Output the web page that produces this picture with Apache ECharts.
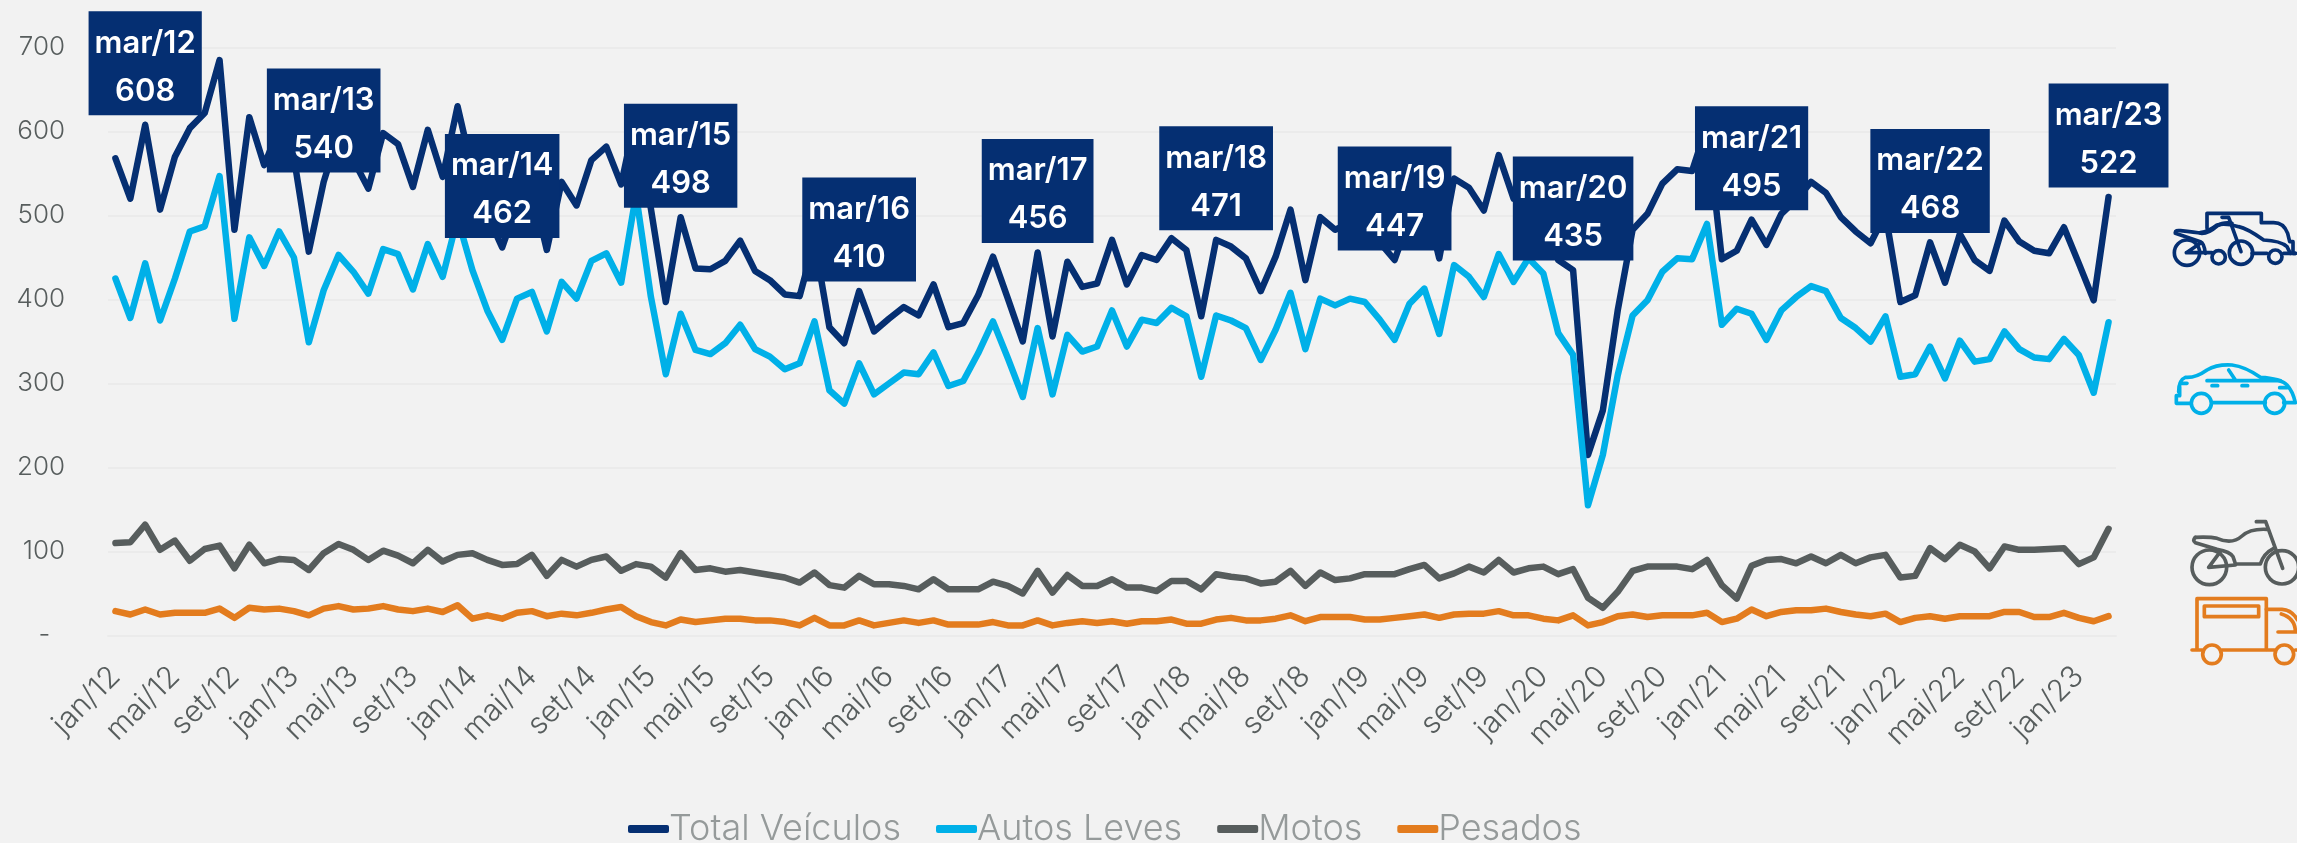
<!DOCTYPE html>
<html lang="pt-BR">
<head>
<meta charset="utf-8">
<title>Total Veículos</title>
<script src="https://cdn.jsdelivr.net/npm/echarts@6/dist/echarts.min.js"></script>
<style>
  html, body { margin: 0; padding: 0; background: #f2f2f2; }
  #chart { width: 2297px; height: 843px; }
</style>
</head>
<body>
<div id="chart"></div>
<script>
const categories = [
  'jan/12','fev/12','mar/12','abr/12','mai/12','jun/12','jul/12','ago/12','set/12','out/12','nov/12','dez/12',
  'jan/13','fev/13','mar/13','abr/13','mai/13','jun/13','jul/13','ago/13','set/13','out/13','nov/13','dez/13',
  'jan/14','fev/14','mar/14','abr/14','mai/14','jun/14','jul/14','ago/14','set/14','out/14','nov/14','dez/14',
  'jan/15','fev/15','mar/15','abr/15','mai/15','jun/15','jul/15','ago/15','set/15','out/15','nov/15','dez/15',
  'jan/16','fev/16','mar/16','abr/16','mai/16','jun/16','jul/16','ago/16','set/16','out/16','nov/16','dez/16',
  'jan/17','fev/17','mar/17','abr/17','mai/17','jun/17','jul/17','ago/17','set/17','out/17','nov/17','dez/17',
  'jan/18','fev/18','mar/18','abr/18','mai/18','jun/18','jul/18','ago/18','set/18','out/18','nov/18','dez/18',
  'jan/19','fev/19','mar/19','abr/19','mai/19','jun/19','jul/19','ago/19','set/19','out/19','nov/19','dez/19',
  'jan/20','fev/20','mar/20','abr/20','mai/20','jun/20','jul/20','ago/20','set/20','out/20','nov/20','dez/20',
  'jan/21','fev/21','mar/21','abr/21','mai/21','jun/21','jul/21','ago/21','set/21','out/21','nov/21','dez/21',
  'jan/22','fev/22','mar/22','abr/22','mai/22','jun/22','jul/22','ago/22','set/22','out/22','nov/22','dez/22',
  'jan/23','fev/23','mar/23'
]

const totalVeiculos = [
  568,520,608,507,570,604,622,685,483,617,560,604,
  569,457,540,597,566,532,598,585,534,602,546,630,
  553,501,462,513,534,459,540,512,566,582,537,620,
  508,397,498,437,436,446,470,434,423,406,404,470,
  367,348,410,362,377,391,381,418,367,372,405,451,
  401,350,456,356,445,415,419,471,418,453,447,473,
  459,380,471,463,449,410,451,507,423,498,483,491,
  489,468,447,497,522,449,544,533,506,572,520,553,
  533,447,435,215,268,387,483,502,538,555,553,607,
  448,458,495,465,502,519,540,527,498,481,467,502,
  397,405,468,420,478,447,434,494,469,458,455,486,
  443,399,522
]
const autosLeves = [
  425,378,443,375,425,481,487,547,377,474,440,481,
  450,349,411,453,433,407,460,454,412,466,427,497,
  435,387,352,401,409,362,421,401,446,455,420,525,
  403,311,383,340,335,348,370,341,332,317,324,374,
  292,276,324,287,300,313,311,337,297,303,336,374,
  330,284,366,287,358,338,344,387,344,376,372,390,
  380,308,381,375,366,328,364,408,341,401,393,401,
  397,376,352,395,413,359,441,427,403,454,421,449,
  431,360,334,155,215,310,381,399,433,449,448,490,
  370,389,383,352,387,403,416,410,378,366,350,380,
  308,311,344,306,351,326,329,362,341,331,329,353,
  334,289,373
]
const motos = [
  110,111,132,102,113,89,103,107,80,108,86,91,
  90,78,98,109,102,90,101,95,86,102,88,96,
  98,90,84,85,96,71,90,82,90,94,77,85,
  82,69,98,78,80,76,78,75,72,69,63,75,
  60,57,71,61,61,59,55,67,55,55,55,64,
  59,50,77,51,72,59,59,67,57,57,53,65,
  65,55,73,70,68,62,64,77,59,75,66,68,
  73,73,73,79,84,68,74,82,75,90,75,80,
  82,73,79,45,33,52,77,82,82,82,79,90,
  60,44,83,90,91,86,94,86,96,86,93,96,
  69,71,104,91,108,100,80,106,102,102,103,104,
  85,93,127
]
const pesados = [
  29,25,31,25,27,27,27,32,21,33,31,32,
  29,24,32,35,31,32,35,31,29,32,28,36,
  20,24,20,27,29,23,26,24,27,31,34,23,
  16,12,19,16,18,20,20,18,18,16,12,21,
  12,12,18,12,15,18,15,18,13,13,13,16,
  12,12,18,12,15,17,15,17,14,17,17,19,
  14,14,19,21,18,18,20,24,17,22,22,22,
  19,19,21,23,25,21,25,26,26,29,24,24,
  20,18,24,12,16,23,25,22,24,24,24,27,
  16,20,31,23,28,30,30,32,28,25,23,26,
  16,21,23,20,23,23,23,28,28,22,22,27,
  21,17,23
]
// meses com caixa de destaque na série total
const destaques = ['mar/12','mar/13','mar/14','mar/15','mar/16','mar/17','mar/18','mar/19','mar/20','mar/21','mar/22','mar/23']
const yTicks = [0, 100, 200, 300, 400, 500, 600, 700]

const FONT = 'Inter, sans-serif'
const NAVY = '#052f72'
const SKY = '#00b0e8'
const GREY = '#575d5d'
const ORANGE = '#e37c1e'
const GRID = '#ebebeb'

const totalData = totalVeiculos.map((v, i) => {
  if (!destaques.includes(categories[i])) return v
  return {
    value: v,
    symbol: 'circle',
    symbolSize: 1,
    label: {
      show: true,
      position: 'top',
      distance: 9,
      formatter: '{b}\n{c}',
      color: '#fff',
      fontFamily: FONT,
      fontWeight: 600,
      fontSize: 31,
      lineHeight: 48,
      backgroundColor: NAVY,
      padding: [8, 6, 0, 6],
    },
  }
})

const lineSeries = (name, data, color) => ({
  name,
  type: 'line',
  data,
  symbol: 'none',
  showSymbol: true,
  showAllSymbol: true,
  smooth: false,
  animation: false,
  itemStyle: { color },
  lineStyle: { color, width: 6.5, cap: 'round', join: 'round' },
})

// ícones decorativos à direita, desenhados em escala 3x
let shapeCount = 0
const iconPath = (d, color) => {
  const name = 'iconShape' + shapeCount++
  echarts.graphic.registerShape(name, echarts.graphic.extendPath(d))
  return {
    type: name,
    style: { fill: 'none', stroke: color, lineWidth: 11, lineCap: 'round', lineJoin: 'round' },
  }
}
const icon = (x, y, color, paths, circles) => ({
  type: 'group',
  x,
  y,
  scaleX: 1 / 3,
  scaleY: 1 / 3,
  silent: true,
  children: paths.map(d => iconPath(d, color)).concat(circles.map(c => ({
    type: 'circle',
    shape: { cx: c[0], cy: c[1], r: c[2] },
    style: { fill: 'none', stroke: color, lineWidth: 11 },
  }))),
})

const icons = [
  icon(2167, 200, NAVY, [
    'M120 85 V40 H283 V68 H320 Q350 68 362 100 L368 125 H378 V160 H385',
    'M100 98 Q125 95 150 75 Q175 68 215 80 Q240 85 290 120 Q340 122 360 140 L370 160',
    'M255 160 H300 M350 160 H385',
    'M25 97 Q25 90 40 92 Q85 97 105 100 Q125 100 150 78 Q170 65 195 70',
    'M165 52 H185 L222 155',
    'M25 100 Q60 112 100 125 Q112 130 115 160 M58 158 L100 130 M58 158 H135',
  ], [[60, 158, 38], [155, 172, 20], [222, 158, 35], [325, 170, 20]]),
  icon(2167, 350, SKY, [
    'M35 125 Q35 90 55 82 Q85 85 120 60 Q150 42 195 45 Q235 50 280 82 Q340 85 360 105 Q378 125 385 158 H350',
    'M295 158 H135 M72 160 H28 V137 H38 L38 110',
    'M120 92 H340 M185 60 L205 90',
    'M135 107 H152 M225 107 H242 M40 100 H60 M338 113 H360',
  ], [[103, 160, 30], [323, 160, 30]]),
  icon(2167, 510, GREY, [
    'M85 82 Q130 80 150 85 Q195 105 225 78 Q250 55 300 58',
    'M268 35 H296 L347 175',
    'M85 82 Q75 92 85 98 L150 118 Q190 125 198 140 Q205 160 205 162 H280 Q290 130 320 115',
    'M125 172 L205 165 M125 172 L160 125',
  ], [[127, 172, 52], [345, 172, 50]]),
  icon(2167, 590, ORANGE, [
    'M90 178 V26 H298 V178',
    'M112 48 H275 V80 H112 Z',
    'M298 58 H345 Q375 60 392 90',
    'M343 72 Q385 85 385 125 M333 126 H392',
    'M75 180 H105 M165 180 H322 M385 180 H392',
  ], [[135, 193, 28], [352, 193, 28]]),
]

const chart = echarts.init(document.getElementById('chart'))
chart.setOption({
  backgroundColor: '#f2f2f2',
  animation: false,
  textStyle: { fontFamily: FONT },
  grid: { left: 108, right: 181, top: 47.5, height: 588 },
  legend: {
    left: 623,
    top: 806,
    itemWidth: 41,
    itemHeight: 8,
    itemGap: 35,
    icon: 'roundRect',
    textStyle: {
      color: '#959a9a',
      fontFamily: FONT,
      fontWeight: 300,
      fontSize: 36,
      padding: [0, 0, 0, -5],
    },
    data: ['Total Veículos', 'Autos Leves', 'Motos', 'Pesados'],
  },
  xAxis: {
    type: 'category',
    data: categories,
    boundaryGap: true,
    axisLine: { lineStyle: { color: GRID, width: 2 } },
    axisTick: { interval: 3, length: 11, lineStyle: { color: GRID, width: 1.5 } },
    axisLabel: {
      interval: 3,
      rotate: 45,
      margin: 36,
      color: GREY,
      fontFamily: FONT,
      fontWeight: 300,
      fontSize: 30,
    },
  },
  yAxis: {
    type: 'value',
    min: yTicks[0],
    max: yTicks[yTicks.length - 1],
    interval: 100,
    axisLine: { show: false },
    axisTick: { show: false },
    splitLine: { lineStyle: { color: GRID, width: 2 } },
    axisLabel: {
      margin: 43,
      color: GREY,
      fontFamily: FONT,
      fontWeight: 300,
      fontSize: 26,
      formatter: v => (v === 0 ? '-  ' : String(v)),
    },
  },
  series: [
    lineSeries('Total Veículos', totalData, NAVY),
    lineSeries('Autos Leves', autosLeves, SKY),
    lineSeries('Motos', motos, GREY),
    lineSeries('Pesados', pesados, ORANGE),
  ],
  graphic: icons,
})
</script>
</body>
</html>
